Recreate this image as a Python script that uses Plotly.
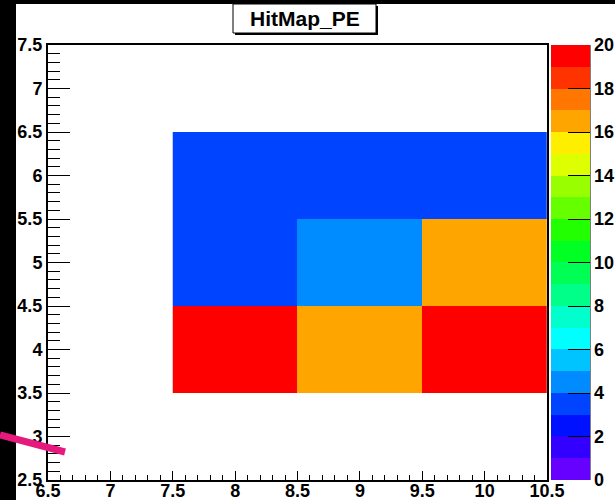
import plotly.graph_objects as go

# ---- data ----
x_centers = [8, 9, 10]
y_centers = [4, 5, 6]
z_values = [
    [20.0, 16.4, 20.0],   # y = 4
    [3.5, 4.6, 16.4],     # y = 5
    [3.5, 3.5, 3.5],      # y = 6
]
band_colors = [
    "#6600FF", "#3300FF", "#0011FF", "#0044FF", "#008CFF",
    "#00C4FF", "#00FFFF", "#00FFCC", "#00FF88", "#00FF55",
    "#00FF22", "#22FF00", "#66FF00", "#99FF00", "#DDFF00",
    "#FFEE00", "#FFA500", "#FF7700", "#FF3300", "#FF0000",
]
cbar_ticks = list(range(0, 21, 2))
title_text = "HitMap_PE"

# ---- layout geometry (pixels) ----
W, H = 615, 500
L, R, T, B = 48, 547, 45, 480
pw, ph = R - L, B - T

def px(x):
    return (x - L) / pw

def py(y):
    return (B - y) / ph

n = len(band_colors)
colorscale = []
for i, c in enumerate(band_colors):
    colorscale.append([i / n, c])
    colorscale.append([(i + 1) / n, c])

FONT = dict(family="Liberation Sans, Arial, Helvetica, sans-serif", size=18, color="black", weight="bold")

fig = go.Figure()
fig.add_trace(go.Heatmap(
    x=x_centers, y=y_centers, z=z_values,
    zmin=0, zmax=20, colorscale=colorscale,
    colorbar=dict(
        x=px(551), xanchor="left", xpad=0, ypad=0,
        y=0.5, yanchor="middle", len=1, lenmode="fraction",
        thickness=39, outlinewidth=0,
        tickmode="array", tickvals=cbar_ticks,
        ticks="inside", ticklen=22, tickwidth=1, tickcolor="black",
        tickfont=FONT,
    ),
    hoverinfo="x+y+z",
))

axis_common = dict(
    showgrid=False, zeroline=False, showline=True, linecolor="black",
    linewidth=2, mirror=True, ticks="inside", tickcolor="black",
    tickwidth=1, tickfont=FONT, tickmode="linear", dtick=0.5,
    automargin=False,
)
fig.update_xaxes(range=[6.5, 10.5], tick0=6.5, ticklen=9, ticklabelstandoff=-7,
                 minor=dict(dtick=0.1, tick0=6.5, ticks="inside", ticklen=5, tickcolor="black", tickwidth=1),
                 **axis_common)
fig.update_yaxes(range=[2.5, 7.5], tick0=2.5, ticklen=22,
                 minor=dict(dtick=0.1, tick0=2.5, ticks="inside", ticklen=12, tickcolor="black", tickwidth=1),
                 **axis_common)

shapes = [
    # black strips at left and top
    dict(type="rect", xref="paper", yref="paper", x0=px(0), x1=px(16), y0=py(H), y1=py(0),
         fillcolor="black", line=dict(width=0), layer="above"),
    dict(type="rect", xref="paper", yref="paper", x0=px(0), x1=px(W), y0=py(4), y1=py(0),
         fillcolor="black", line=dict(width=0), layer="above"),
    # colorbar right edge line
    dict(type="line", xref="paper", yref="paper", x0=px(590), x1=px(590), y0=0, y1=1,
         line=dict(color="black", width=1)),
    # title box shadow and box
    dict(type="rect", xref="paper", yref="paper", x0=px(235), x1=px(378), y0=py(35), y1=py(6),
         fillcolor="black", line=dict(width=0), layer="above"),
    dict(type="rect", xref="paper", yref="paper", x0=px(233), x1=px(376), y0=py(33), y1=py(4),
         fillcolor="white", line=dict(color="black", width=1), layer="above"),
    # pink stroke at lower left
    dict(type="line", xref="paper", yref="paper", x0=px(0), y0=py(435), x1=px(65), y1=py(452),
         line=dict(color="#E6197D", width=7), layer="above"),
]

fig.update_layout(
    width=W, height=H,
    margin=dict(l=L, r=W - R, t=T, b=H - B, autoexpand=False),
    paper_bgcolor="white", plot_bgcolor="white",
    shapes=shapes,
    annotations=[dict(
        text=title_text, xref="paper", yref="paper",
        x=px(304.5), y=py(18.5), xanchor="center", yanchor="middle",
        showarrow=False,
        font=dict(family="Liberation Sans, Arial, Helvetica, sans-serif", size=21, color="black", weight="bold"),
    )],
    showlegend=False,
)

fig.write_html(
    "out.html",
    config={"displayModeBar": False},
    post_script="document.body.style.margin='0';document.body.style.padding='0';document.body.style.overflow='hidden';",
)
